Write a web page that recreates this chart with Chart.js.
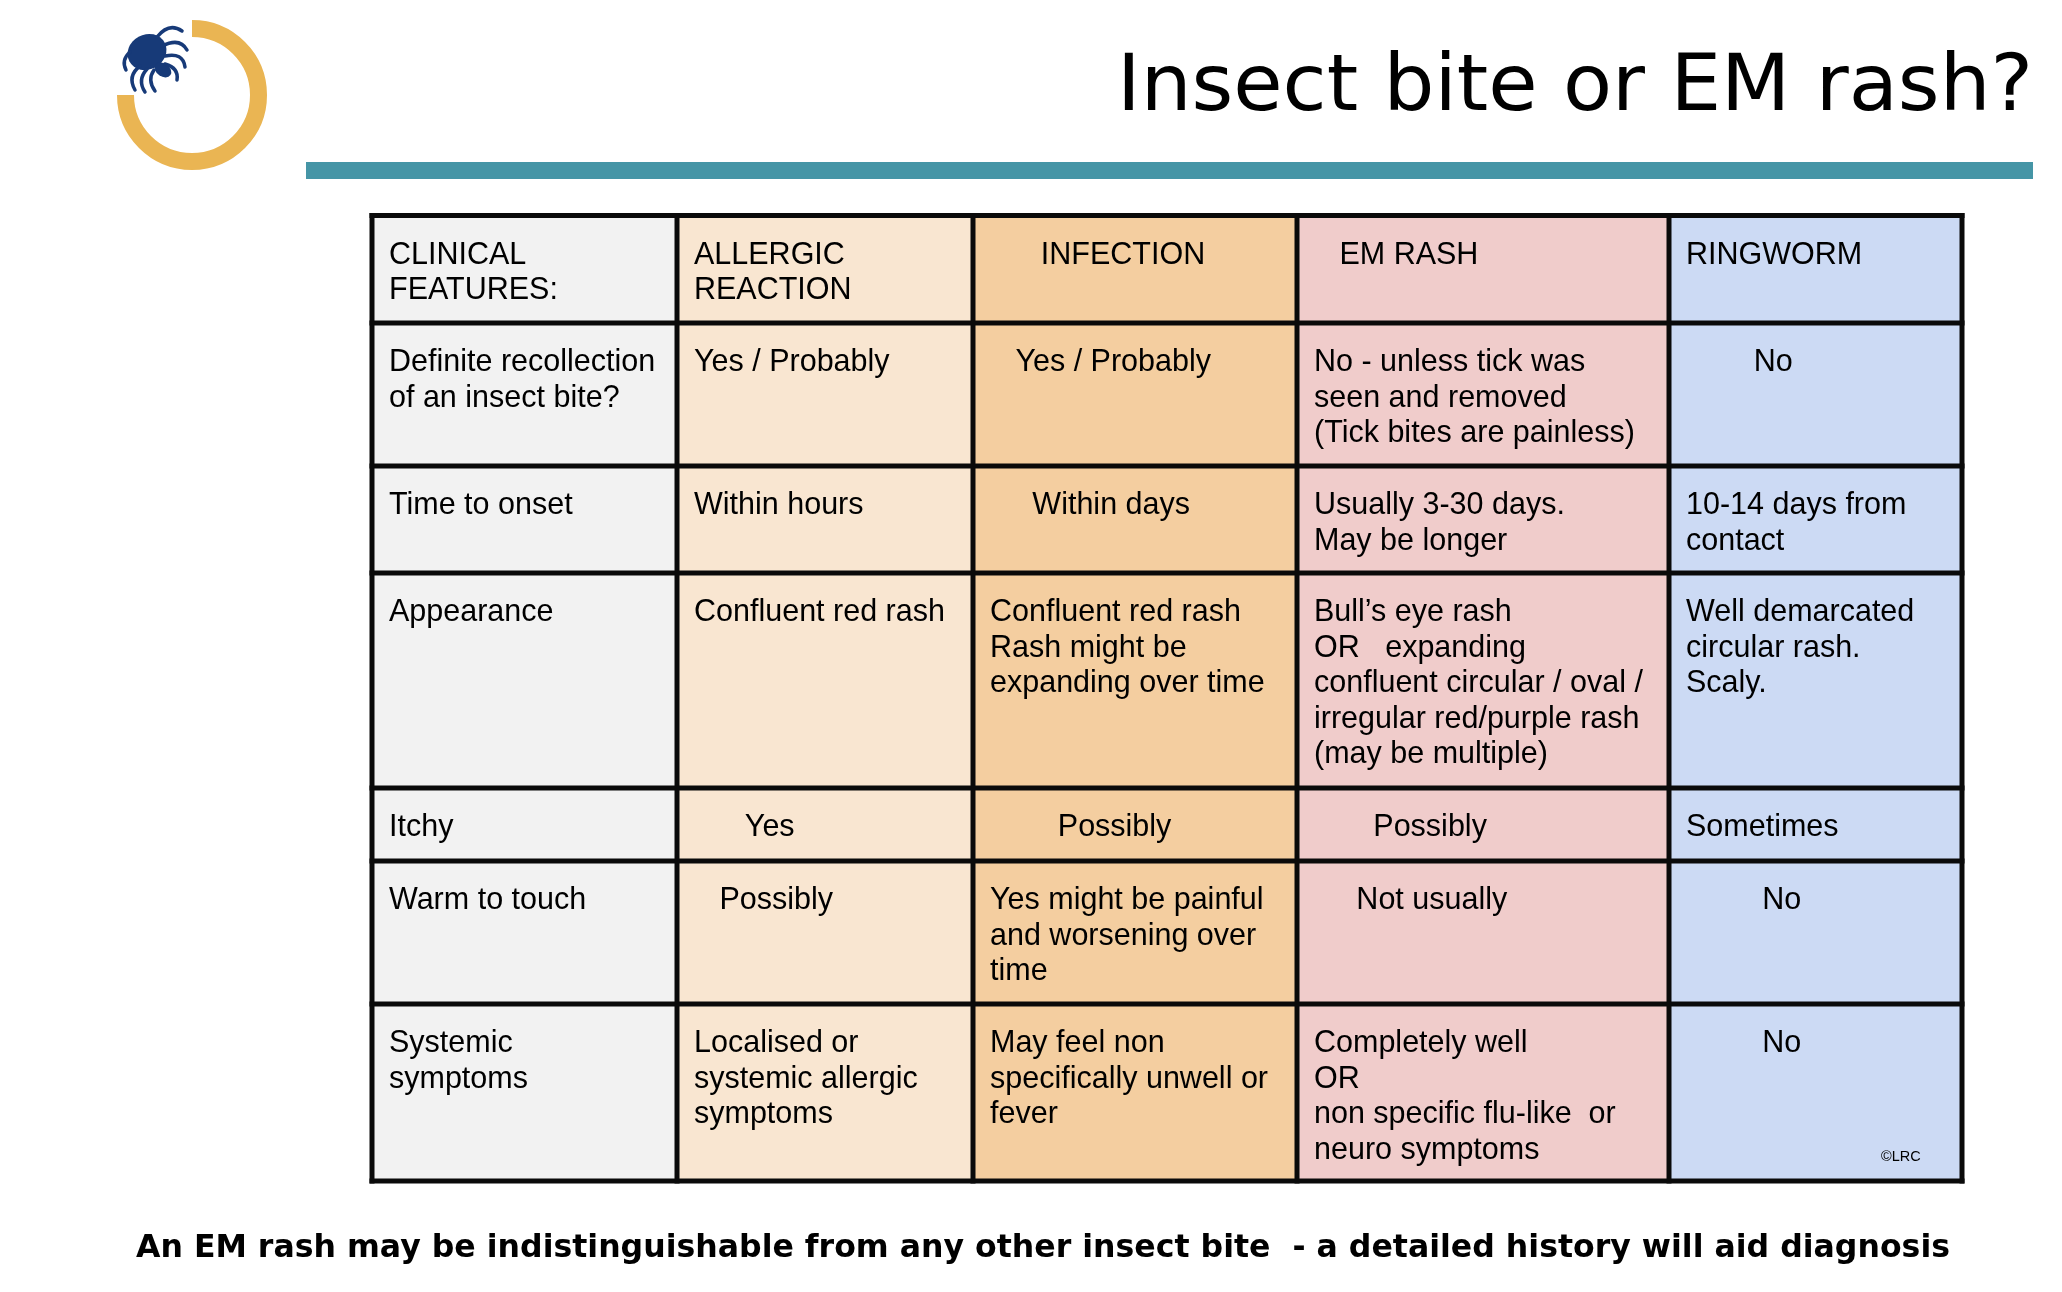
<!DOCTYPE html>
<html>
<head>
<meta charset="utf-8">
<script src="https://cdn.jsdelivr.net/npm/chart.js@4.4.1/dist/chart.umd.min.js"></script>
<style>
  html, body { margin: 0; padding: 0; background: #ffffff; }
  #wrap { width: 2062px; height: 1292px; position: relative; }
</style>
</head>
<body>
<div id="wrap"><canvas id="c"></canvas></div>
<script>
// ---------- DATA (text content of the table) ----------
const titleText = 'Insect bite or EM rash?';
const footText = 'An EM rash may be indistinguishable from any other insect bite  - a detailed history will aid diagnosis';
const creditText = '\u00A9LRC';

const headers = ['CLINICAL\nFEATURES:', 'ALLERGIC\nREACTION', '      INFECTION', '   EM RASH', 'RINGWORM'];
const features = [
  'Definite recollection\nof an insect bite?',
  'Time to onset',
  'Appearance',
  'Itchy',
  'Warm to touch',
  'Systemic\nsymptoms'
];
const allergic = [
  'Yes / Probably',
  'Within hours',
  'Confluent red rash',
  '      Yes',
  '   Possibly',
  'Localised or\nsystemic allergic\nsymptoms'
];
const infection = [
  '   Yes / Probably',
  '     Within days',
  'Confluent red rash\nRash might be\nexpanding over time',
  '        Possibly',
  'Yes might be painful\nand worsening over\ntime',
  'May feel non\nspecifically unwell or\nfever'
];
const emRash = [
  'No - unless tick was\nseen and removed\n(Tick bites are painless)',
  'Usually 3-30 days.\nMay be longer',
  'Bull\u2019s eye rash\nOR   expanding\nconfluent circular / oval /\nirregular red/purple rash\n(may be multiple)',
  '       Possibly',
  '     Not usually',
  'Completely well\nOR\nnon specific flu-like  or\nneuro symptoms'
];
const ringworm = [
  '        No',
  '10-14 days from\ncontact',
  'Well demarcated\ncircular rash.\nScaly.',
  'Sometimes',
  '         No',
  '         No'
];

// ---------- LAYOUT / STYLE (page units) ----------
const W = 2062, H = 1292;
const colEdges = [372, 677, 973, 1297, 1669, 1962];
const rowEdges = [215.5, 323, 466, 573, 788, 861, 1004, 1181];
const colFills = ['#F2F2F2', '#F9E6D1', '#F4CEA0', '#F0CCCB', '#CCDAF4'];
const cellFont = '30.5px "Liberation Sans", Arial, sans-serif';
const padX = 17, firstBase = 48, lineH = 35.5;

const columns = [features, allergic, infection, emRash, ringworm];

const tablePlugin = {
  id: 'tablePlugin',
  afterDraw(chart) {
    const ctx = chart.ctx;
    const xs = chart.scales.x, ys = chart.scales.y;
    const X = v => xs.getPixelForValue(v);
    const Y = v => ys.getPixelForValue(v);
    ctx.save();

    // ---- logo ring ----
    ctx.strokeStyle = '#EAB553';
    ctx.lineWidth = 17;
    ctx.lineCap = 'butt';
    ctx.beginPath();
    ctx.arc(X(192), Y(95), 66.5, -Math.PI / 2, Math.PI, false);
    ctx.stroke();

    // ---- tick ----
    ctx.fillStyle = '#173A78';
    ctx.strokeStyle = '#173A78';
    ctx.beginPath();
    ctx.ellipse(X(147), Y(52), 20, 17.5, -0.5, 0, Math.PI * 2);
    ctx.fill();
    ctx.beginPath();
    ctx.ellipse(X(163), Y(70), 9, 6.5, 0.6, 0, Math.PI * 2);
    ctx.fill();
    ctx.lineWidth = 3.5;
    ctx.lineCap = 'round';
    const legs = [
      [157, 37, 169, 22, 182, 31],
      [162, 46, 180, 37, 187, 50],
      [165, 56, 183, 52, 185, 67],
      [165, 64, 179, 68, 177, 80],
      [154, 70, 147, 80, 155, 91],
      [147, 69, 137, 80, 145, 92],
      [140, 66, 127, 76, 135, 90],
      [130, 52, 121, 60, 126, 70]
    ];
    legs.forEach(l => {
      ctx.beginPath();
      ctx.moveTo(X(l[0]), Y(l[1]));
      ctx.quadraticCurveTo(X(l[2]), Y(l[3]), X(l[4]), Y(l[5]));
      ctx.stroke();
    });

    // ---- title ----
    ctx.fillStyle = '#000000';
    ctx.font = '78px "DejaVu Sans", Verdana, sans-serif';
    ctx.textBaseline = 'alphabetic';
    ctx.textAlign = 'left';
    let tw = ctx.measureText(titleText).width;
    let sx = 916 / tw;
    ctx.save();
    ctx.translate(X(1117), Y(110));
    ctx.scale(sx, 1);
    ctx.fillText(titleText, 0, 0);
    ctx.restore();

    // ---- teal rule ----
    ctx.fillStyle = '#4595A6';
    ctx.fillRect(X(306), Y(162), X(2033) - X(306), Y(179) - Y(162));

    // ---- cell fills ----
    for (let c = 0; c < 5; c++) {
      ctx.fillStyle = colFills[c];
      ctx.fillRect(X(colEdges[c]), Y(rowEdges[0]), X(colEdges[c + 1]) - X(colEdges[c]), Y(rowEdges[rowEdges.length - 1]) - Y(rowEdges[0]));
    }

    // ---- cell texts ----
    ctx.fillStyle = '#000000';
    ctx.font = cellFont;
    for (let c = 0; c < 5; c++) {
      const cells = [headers[c]].concat(columns[c]);
      cells.forEach((txt, r) => {
        const lines = txt.split('\n');
        lines.forEach((ln, i) => {
          ctx.fillText(ln, X(colEdges[c] + padX), Y(rowEdges[r] + firstBase + i * lineH));
        });
      });
    }

    // ---- credit ----
    ctx.font = '14.5px "Liberation Sans", Arial, sans-serif';
    ctx.fillText(creditText, X(1881), Y(1161));

    // ---- grid lines ----
    ctx.strokeStyle = '#0a0a0a';
    ctx.lineWidth = 5;
    ctx.lineCap = 'square';
    const top = rowEdges[0], bot = rowEdges[rowEdges.length - 1];
    colEdges.forEach(x => {
      ctx.beginPath();
      ctx.moveTo(X(x), Y(top));
      ctx.lineTo(X(x), Y(bot));
      ctx.stroke();
    });
    rowEdges.forEach(y => {
      ctx.beginPath();
      ctx.moveTo(X(colEdges[0]), Y(y));
      ctx.lineTo(X(colEdges[colEdges.length - 1]), Y(y));
      ctx.stroke();
    });

    // ---- footnote ----
    ctx.fillStyle = '#000000';
    ctx.font = 'bold 32px "DejaVu Sans", Verdana, sans-serif';
    tw = ctx.measureText(footText).width;
    sx = 1814 / tw;
    ctx.save();
    ctx.translate(X(136), Y(1257));
    ctx.scale(sx, 1);
    ctx.fillText(footText, 0, 0);
    ctx.restore();

    ctx.restore();
  }
};

new Chart(document.getElementById('c'), {
  type: 'scatter',
  data: { datasets: [] },
  options: {
    responsive: true,
    maintainAspectRatio: false,
    animation: false,
    layout: { padding: 0 },
    plugins: { legend: { display: false }, tooltip: { enabled: false }, title: { display: false } },
    scales: {
      x: { type: 'linear', min: 0, max: W, display: false },
      y: { type: 'linear', min: 0, max: H, reverse: true, display: false }
    }
  },
  plugins: [tablePlugin]
});
</script>
</body>
</html>
